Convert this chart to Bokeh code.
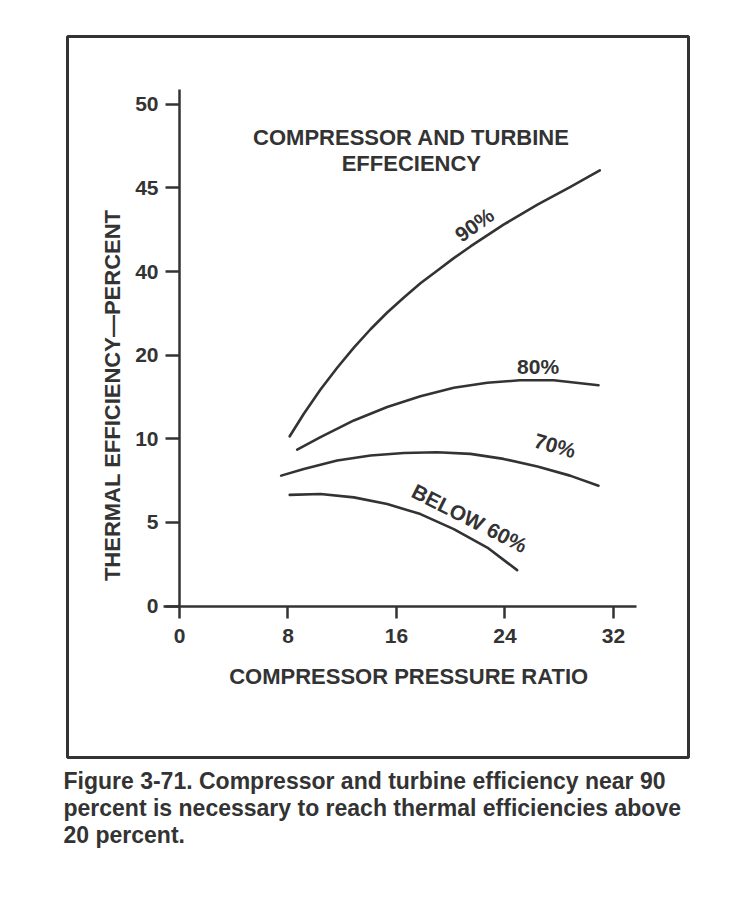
import numpy as np
from bokeh.plotting import figure
from bokeh.models import Range1d, FixedTicker, Title
from bokeh.core.properties import value
from bokeh.embed import file_html
from bokeh.resources import INLINE

# ---- data -------------------------------------------------------------
y_tick_values = [0, 5, 10, 20, 40, 45, 50]          # thermal efficiency, percent
y_tick_labels = ["0", "5", "10", "20", "40", "45", "50"]
x_tick_values = [0, 8, 16, 24, 32]                  # compressor pressure ratio

ratio_90 = [8.13, 9.17, 10.4, 11.63, 12.86, 14.09, 15.32, 16.55, 17.77, 19.0, 20.23, 21.46, 23.9, 26.4, 28.8, 31.0]
eff_90 = [10.3, 13.0, 15.9, 18.5, 21.8, 26.2, 30.2, 33.8, 37.2, 40.05, 40.8, 41.5, 42.8, 44.0, 45.05, 46.05]

ratio_80 = [8.68, 10.4, 12.86, 15.32, 17.77, 20.23, 22.7, 25.1, 27.6, 30.9]
eff_80 = [9.35, 10.2, 12.2, 13.8, 15.1, 16.1, 16.7, 17.0, 17.0, 16.4]

ratio_70 = [7.5, 9.17, 11.63, 14.09, 16.55, 19.0, 21.46, 23.9, 26.4, 28.8, 30.9]
eff_70 = [7.8, 8.2, 8.7, 9.0, 9.15, 9.2, 9.1, 8.8, 8.35, 7.8, 7.2]

ratio_60 = [8.13, 10.4, 12.86, 15.32, 17.77, 20.23, 22.7, 24.9]
eff_60 = [6.65, 6.7, 6.5, 6.1, 5.5, 4.6, 3.5, 2.15]

caption_lines = [
    "Figure 3-71. Compressor and turbine efficiency near 90",
    "percent is necessary to reach thermal efficiencies above",
    "20 percent.",
]

# the printed y scale is not linear: each labelled value sits one step apart
y_pos = list(range(len(y_tick_values)))


def to_pos(v):
    return np.interp(v, y_tick_values, y_pos)


INK = "#333333"
FONT = "Liberation Sans"

p = figure(width=724, height=880, output_backend="svg", toolbar_location=None,
           x_range=Range1d(-8.26, 37.54), y_range=Range1d(-1.81, 6.81),
           min_border_left=67, min_border_right=36, min_border_top=36,
           min_border_bottom=123, background_fill_color="white",
           border_fill_color="white")

p.outline_line_color = INK
p.outline_line_width = 3
p.grid.visible = False

# axes placed inside the framed box
p.xaxis.fixed_location = 0
p.yaxis.fixed_location = 0
p.xaxis.bounds = (-1.2, 33.7)
p.yaxis.bounds = (0, 6.18)
p.xaxis.ticker = FixedTicker(ticks=x_tick_values)
p.yaxis.ticker = FixedTicker(ticks=y_pos)
p.yaxis.major_label_overrides = {i: t for i, t in zip(y_pos, y_tick_labels)}
for ax in (p.xaxis, p.yaxis):
    ax.axis_line_color = INK
    ax.axis_line_width = 2.5
    ax.major_tick_line_color = INK
    ax.major_tick_line_width = 2.5
    ax.major_tick_in = 0
    ax.minor_tick_line_color = None
    ax.major_label_text_font = FONT
    ax.major_label_text_font_style = "bold"
    ax.major_label_text_font_size = "21px"
    ax.major_label_text_color = INK
p.xaxis.major_tick_out = 12
p.yaxis.major_tick_out = 14
p.xaxis.major_label_standoff = 11
p.yaxis.major_label_standoff = 7

# curves
for xs, ys in ((ratio_90, eff_90), (ratio_80, eff_80), (ratio_70, eff_70), (ratio_60, eff_60)):
    p.line(xs, to_pos(ys), line_color=INK, line_width=2.6, line_cap="round", line_join="round")

txt = dict(text_font=value(FONT), text_font_style="bold", text_color=INK,
           text_align="center", text_baseline="middle")

# axis titles
p.text(x=[16.9], y=[-0.84], text=["COMPRESSOR PRESSURE RATIO"], text_font_size="22px", **txt)
p.text(x=[-4.94], y=[2.52], text=["THERMAL EFFICIENCY\u2014PERCENT"], angle=np.pi / 2,
       text_font_size="22px", **txt)

# legend heading
p.text(x=[17.1, 17.1], y=[5.60, 5.29], text=["COMPRESSOR AND TURBINE", "EFFECIENCY"],
       text_font_size="22px", **txt)

# curve labels
p.text(x=[21.75], y=[4.56], text=["90%"], angle=np.deg2rad(36), text_font_size="21px", **txt)
p.text(x=[26.45], y=[2.86], text=["80%"], text_font_size="21px", **txt)
p.text(x=[27.7], y=[1.92], text=["70%"], angle=np.deg2rad(-16), text_font_size="21px", **txt)
p.text(x=[21.4], y=[1.05], text=["BELOW 60%"], angle=np.deg2rad(-27), text_font_size="21px", **txt)

# caption below the box
caption_standoff = [16, -18, 16]
for line, so in zip(caption_lines, caption_standoff):
    p.add_layout(Title(text=line, align="left", offset=-4, text_font=FONT,
                       text_font_style="bold", text_font_size="23px", text_color=INK,
                       standoff=so), "below")

open("out.html", "w").write(file_html(p, INLINE))
